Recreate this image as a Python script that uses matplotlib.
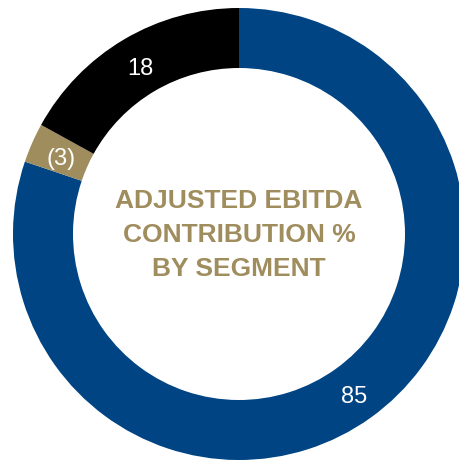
import matplotlib.pyplot as plt
import numpy as np

# segment contributions (%), drawn clockwise from 12 o'clock
segments = ["Segment A", "Segment B", "Segment C"]
values = [85, -3, 18]
labels = ["85", "(3)", "18"]
colors = ["#004483", "#A08D5E", "#000000"]
title_lines = ["ADJUSTED EBITDA", "CONTRIBUTION %", "BY SEGMENT"]

W, H = 459, 462
fig = plt.figure(figsize=(W / 100, H / 100), dpi=100)
ax = fig.add_axes([0, 0, 1, 1])

cx, cy, R = 239, H - 234, 226
ring = 60

wedges, _ = ax.pie([abs(v) for v in values], colors=colors, startangle=90,
                   counterclock=False, radius=R, center=(cx, cy),
                   wedgeprops=dict(width=ring, linewidth=0))

for w, lab in zip(wedges, labels):
    ang = np.deg2rad((w.theta1 + w.theta2) / 2)
    r = R - ring / 2
    ax.text(cx + r * np.cos(ang) + 1, cy + r * np.sin(ang) - 4, lab, color="white",
            fontsize=17, ha="center", va="center", family="Liberation Sans")

ax.text(cx, cy - 1, "\n".join(title_lines), color="#A08D5E", fontsize=19,
        fontweight="bold", ha="center", va="center", linespacing=1.55,
        family="Liberation Sans")

ax.set_xlim(0, W)
ax.set_ylim(0, H)
ax.set_aspect("equal")
ax.axis("off")

fig.savefig("out.png", dpi=100)
